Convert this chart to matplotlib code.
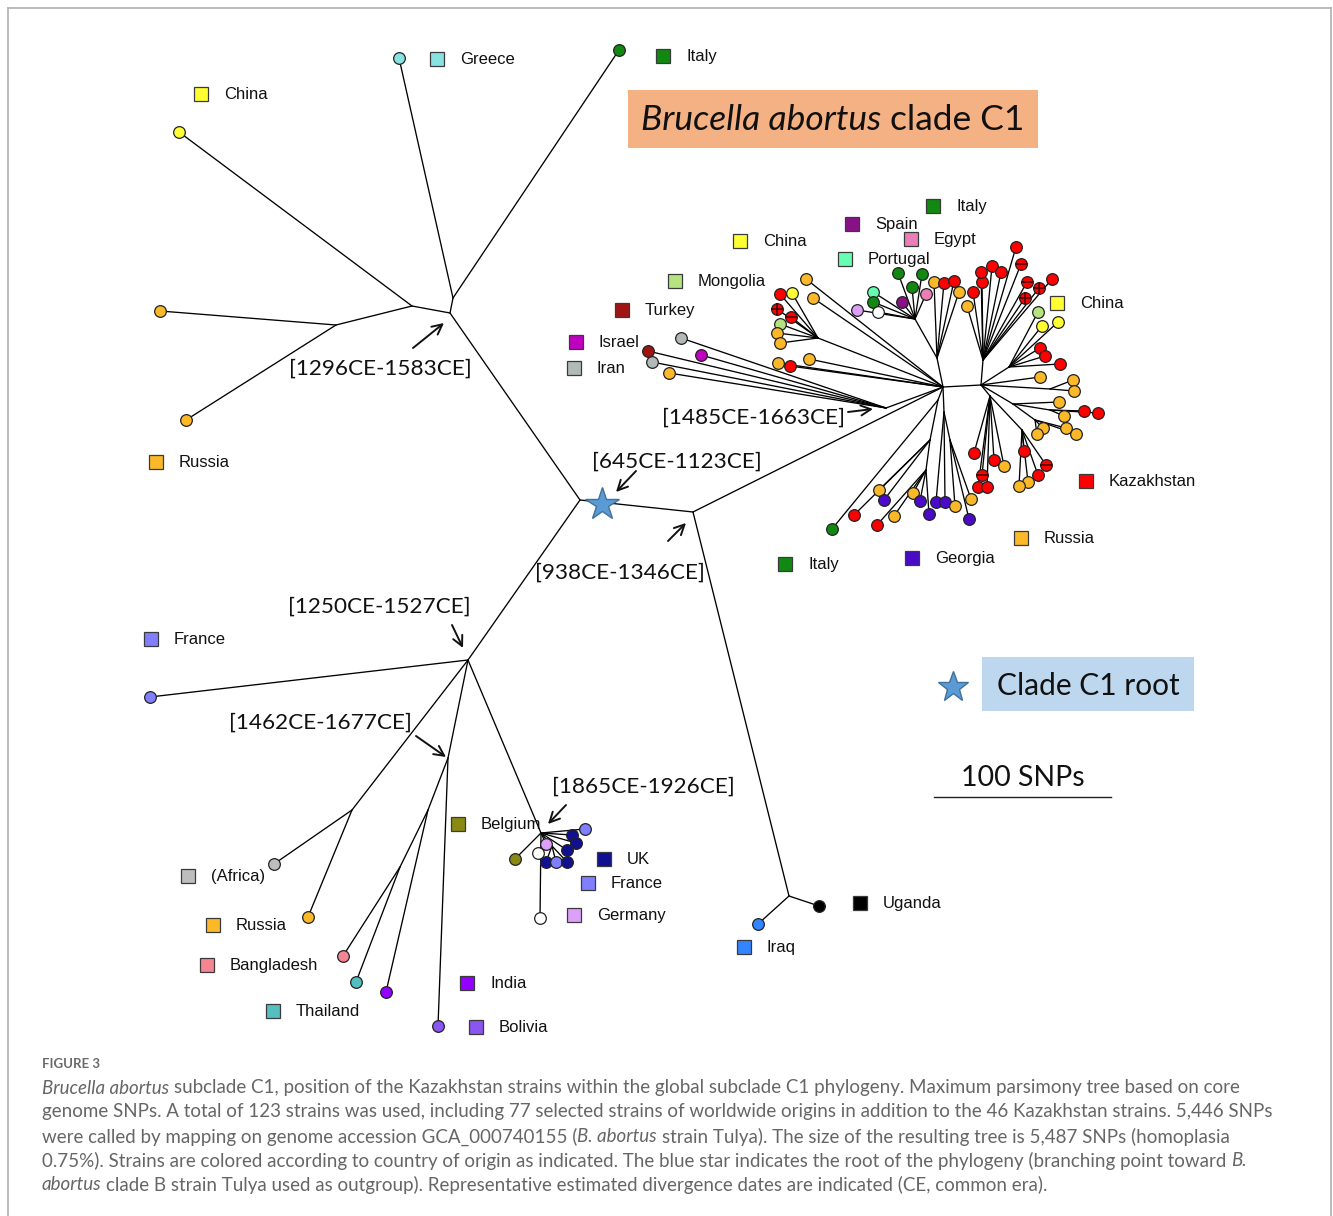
import matplotlib
matplotlib.use("Agg")
import matplotlib.pyplot as plt
from matplotlib.patches import Rectangle

W, H = 1333, 1216
fig = plt.figure(figsize=(W / 100, H / 100), dpi=100)
ax = fig.add_axes([0, 0, 1, 1])
ax.set_xlim(0, W)
ax.set_ylim(H, 0)
ax.axis("off")

# ---------------- data ----------------
country_colors = {
    "Kazakhstan": "#FF0000", "Russia": "#FBB829", "China": "#FFFF33",
    "Italy": "#118811", "Spain": "#881188", "Egypt": "#E97FB5",
    "Portugal": "#66FFB2", "Mongolia": "#B5E37F", "Turkey": "#A01414",
    "Israel": "#C000C0", "Iran": "#B3B8B8", "Greece": "#88E2E2",
    "Georgia": "#4B0AC8", "France": "#7F7FFF", "Belgium": "#8A8A12",
    "UK": "#101090", "Germany": "#DDA0F8", "Africa": "#BDBDBD",
    "Bangladesh": "#F58592", "Thailand": "#55BFBF", "India": "#9400FF",
    "Bolivia": "#8A55F0", "Iraq": "#3385FF", "Uganda": "#000000",
    "unknown": "#FFFFFF",
}

# internal nodes of the tree
node_names = ["A", "B", "N_up", "N_gi", "N_cr", "N_ru", "C", "N_af", "D", "E1", "E2",
              "N_bel", "N_bs", "N_iu", "L", "R", "N1485", "UL1", "U", "U2", "RU", "RC",
              "RA", "RR2", "RB", "RC3", "RD", "RD1", "LD_a", "LD_b", "LD_c", "LD_d", "LD_e"]
node_x = [580, 693, 450, 453, 412, 336, 468, 352, 448, 428, 400,
          541, 552, 789, 943, 981, 886, 818, 937, 915, 983, 1009,
          1050, 1013, 1050, 1035, 990, 1022, 938, 930, 926, 944, 950]
node_y = [500, 512, 313, 298, 306, 325, 660, 810, 758, 810, 867,
          833, 846, 896, 387, 385, 408, 338, 358, 319, 360, 367,
          389, 404, 410, 420, 396, 430, 400, 440, 470, 412, 440]

edge_parent = ["A", "N_up", "N_up", "N_cr", "A", "C", "C", "D", "E1", "C", "N_bel",
               "A", "B", "B", "N1485", "UL1", "U2", "U", "L", "R", "R", "R", "R",
               "RR2", "RR2", "R", "RD", "L", "LD_a", "LD_b", "L", "LD_d"]
edge_child = ["N_up", "N_gi", "N_cr", "N_ru", "C", "N_af", "D", "E1", "E2", "N_bel", "N_bs",
              "B", "N_iu", "L", "L", "L", "U", "L", "R", "RU", "RC", "RA", "RR2",
              "RB", "RC3", "RD", "RD1", "LD_a", "LD_b", "LD_c", "LD_d", "LD_e"]

# tips: parent node, x, y, country, mark ('' plain, '+' crossed, '-' barred)
tip_parent = []
tip_x = []
tip_y = []
tip_country = []
tip_mark = []


def tips(parent, rows):
    for r in rows:
        tip_parent.append(parent)
        tip_x.append(r[0])
        tip_y.append(r[1])
        tip_country.append(r[2])
        tip_mark.append(r[3] if len(r) > 3 else "")


tips("N_gi", [(399, 58, "Greece"), (619, 50, "Italy")])
tips("N_cr", [(179, 132, "China")])
tips("N_ru", [(160, 311, "Russia"), (186, 420, "Russia")])
tips("C", [(150, 697, "France")])
tips("N_af", [(274, 864, "Africa"), (308, 917, "Russia")])
tips("E2", [(343, 956, "Bangladesh"), (356, 982, "Thailand")])
tips("E1", [(386, 992, "India")])
tips("D", [(438, 1026, "Bolivia")])
tips("N_iu", [(758, 924, "Iraq"), (819, 906, "Uganda")])
tips("N_bel", [(515, 859, "Belgium"), (585, 829, "France"), (572, 835, "UK"),
               (576, 843, "UK"), (567, 850, "UK"), (546, 844, "Germany"),
               (540, 918, "unknown")])
tips("N_bs", [(538, 853, "unknown"), (546, 862, "UK"), (556, 862, "France"), (567, 862, "UK")])
tips("N1485", [(681, 338, "Iran"), (701, 355, "Israel"), (648, 351, "Turkey"),
               (652, 362, "Iran"), (669, 373, "Russia")])
tips("UL1", [(780, 294, "Kazakhstan"), (792, 293, "China"), (777, 309, "Kazakhstan", "+"),
             (791, 317, "Kazakhstan", "-"), (780, 324, "Mongolia"), (777, 333, "Russia"),
             (780, 343, "Russia")])
tips("L", [(806, 279, "Russia"), (813, 298, "Russia"), (778, 363, "Russia"),
           (790, 366, "Kazakhstan"), (809, 359, "Russia")])
tips("U2", [(857, 310, "Germany"), (873, 292, "Portugal"), (873, 302, "Italy"),
            (878, 312, "unknown"), (902, 302, "Spain"), (898, 273, "Italy"),
            (912, 287, "Italy"), (922, 274, "Italy"), (926, 294, "Egypt")])
tips("U", [(934, 282, "Russia"), (944, 283, "Kazakhstan"), (954, 281, "Kazakhstan"),
           (959, 292, "Russia")])
tips("RU", [(967, 306, "Russia"), (973, 292, "Kazakhstan"), (982, 282, "Kazakhstan"),
            (981, 272, "Kazakhstan"), (992, 266, "Kazakhstan"), (1001, 272, "Kazakhstan"),
            (1016, 247, "Kazakhstan"), (1021, 264, "Kazakhstan", "-"),
            (1027, 282, "Kazakhstan", "-"), (1052, 279, "Kazakhstan"),
            (1039, 288, "Kazakhstan", "+"), (1025, 298, "Kazakhstan", "+")])
tips("RC", [(1038, 312, "Mongolia"), (1042, 326, "China"), (1058, 322, "China"),
            (1040, 348, "Kazakhstan"), (1045, 356, "Kazakhstan"), (1060, 364, "Kazakhstan")])
tips("R", [(1040, 377, "Russia")])
tips("RA", [(1073, 380, "Russia"), (1074, 391, "Russia")])
tips("RR2", [(1059, 402, "Russia")])
tips("RB", [(1084, 411, "Kazakhstan"), (1098, 413, "Kazakhstan"), (1064, 416, "Russia")])
tips("RC3", [(1043, 428, "Russia"), (1037, 434, "Russia"), (1066, 428, "Russia"),
             (1076, 434, "Russia")])
tips("RD", [(974, 453, "Kazakhstan"), (994, 460, "Kazakhstan"), (1004, 466, "Russia"),
            (978, 487, "Kazakhstan"), (987, 487, "Kazakhstan"),
            (982, 475, "Kazakhstan", "-")])
tips("RD1", [(1024, 451, "Kazakhstan"), (1038, 475, "Kazakhstan"), (1028, 482, "Russia"),
             (1019, 486, "Russia"), (1046, 465, "Kazakhstan", "-")])
tips("LD_a", [(832, 529, "Italy")])
tips("LD_b", [(854, 515, "Kazakhstan"), (879, 490, "Russia"), (884, 500, "Georgia")])
tips("LD_c", [(877, 525, "Kazakhstan"), (894, 516, "Russia"), (913, 493, "Russia"),
              (920, 501, "Georgia"), (929, 514, "Georgia")])
tips("LD_d", [(936, 502, "Georgia"), (945, 502, "Georgia")])
tips("LD_e", [(955, 506, "Russia"), (971, 499, "Russia"), (969, 519, "Georgia")])

# legend labels: text, country, square position
legend_text = ["China", "Greece", "Italy", "Russia", "France", "(Africa)", "Russia",
               "Bangladesh", "Thailand", "India", "Bolivia", "Belgium", "UK", "France",
               "Germany", "Uganda", "Iraq", "Italy", "Georgia", "Russia", "Kazakhstan",
               "China", "Italy", "Spain", "Egypt", "China", "Portugal", "Mongolia",
               "Turkey", "Israel", "Iran"]
legend_country = ["China", "Greece", "Italy", "Russia", "France", "Africa", "Russia",
                  "Bangladesh", "Thailand", "India", "Bolivia", "Belgium", "UK", "France",
                  "Germany", "Uganda", "Iraq", "Italy", "Georgia", "Russia", "Kazakhstan",
                  "China", "Italy", "Spain", "Egypt", "China", "Portugal", "Mongolia",
                  "Turkey", "Israel", "Iran"]
legend_x = [201, 437, 663, 156, 151, 188, 213, 207, 273, 467, 476, 458, 604, 588, 574,
            860, 744, 785, 912, 1021, 1086, 1057, 933, 852, 911, 740, 845, 675, 622, 576, 574]
legend_y = [94, 59, 56, 462, 639, 876, 925, 965, 1011, 983, 1027, 824, 859, 883, 915,
            903, 947, 564, 558, 538, 481, 303, 206, 224, 239, 241, 259, 281, 310, 342, 368]

# divergence date labels
date_labels = ["[1296CE-1583CE]", "[645CE-1123CE]", "[938CE-1346CE]", "[1485CE-1663CE]",
               "[1250CE-1527CE]", "[1462CE-1677CE]", "[1865CE-1926CE]"]
date_label_xy = [(380, 367), (677, 460), (620, 571), (753, 416), (379, 605), (320, 721), (643, 785)]
date_arrow_tail = [(413, 348), (636, 471), (668, 541), (848, 412), (452, 625), (416, 736), (566, 805)]
date_arrow_head = [(444, 323), (616, 492), (686, 523), (873, 409), (463, 648), (446, 757), (548, 824)]

# ---------------- drawing ----------------
pos = {n: (x, y) for n, x, y in zip(node_names, node_x, node_y)}
LW = 0.95
for p, c in zip(edge_parent, edge_child):
    (x0, y0), (x1, y1) = pos[p], pos[c]
    ax.plot([x0, x1], [y0, y1], color="black", lw=LW, zorder=2, solid_capstyle="round")
for p, x, y in zip(tip_parent, tip_x, tip_y):
    x0, y0 = pos[p]
    ax.plot([x0, x], [y0, y], color="black", lw=LW, zorder=2, solid_capstyle="round")

MS = 8.4
for x, y, c, m in zip(tip_x, tip_y, tip_country, tip_mark):
    ax.plot(x, y, "o", ms=MS, mfc=country_colors[c], mec="#222222", mew=0.9, zorder=3)
    if m == "+":
        ax.plot(x, y, "+", ms=8.0, mec="#4a0000", mew=1.2, zorder=4)
    elif m == "-":
        ax.plot(x, y, "_", ms=8.0, mec="#4a0000", mew=1.2, zorder=4)

# legend squares and names
for t, c, x, y in zip(legend_text, legend_country, legend_x, legend_y):
    ax.plot(x, y, "s", ms=10.5, mfc=country_colors[c], mec="#3a3a3a", mew=0.9, zorder=3)
    ax.text(x + 23, y + 0.5, t, fontsize=12, family="Liberation Sans", ha="left",
            va="center", color="#111111", zorder=5)

# date labels and arrows
for t, (tx, ty), tail, head in zip(date_labels, date_label_xy, date_arrow_tail, date_arrow_head):
    ax.text(tx, ty + 1.5, t, fontsize=16.2, family="Lato", ha="center", va="center",
            color="#111111", zorder=5)
    ax.annotate("", xy=head, xytext=tail,
                arrowprops=dict(arrowstyle="->", lw=1.4, color="#111111", mutation_scale=18,
                                shrinkA=0, shrinkB=0), zorder=5)

# root star
ax.plot(602, 504, "*", ms=25, mfc="#5B9BD5", mec="#41719C", mew=1.0, zorder=6)

fig.canvas.draw()
renderer = fig.canvas.get_renderer()
inv = ax.transData.inverted()


def text_width(s, **kw):
    t = ax.text(0, 0, s, **kw)
    bb = t.get_window_extent(renderer=renderer)
    t.remove()
    return bb.width


def rich_line(x, y, segs, **kw):
    sw = text_width("a a", **kw) - text_width("aa", **kw)
    for s, it in segs:
        style = "italic" if it else "normal"
        lead = len(s) - len(s.lstrip(" "))
        trail = len(s) - len(s.rstrip(" "))
        core = s.strip(" ")
        x += lead * sw
        t = ax.text(x, y, core, fontstyle=style, **kw)
        bb = t.get_window_extent(renderer=renderer)
        x = inv.transform((bb.x1, bb.y0))[0] + trail * sw
    return x


# title box
ax.add_patch(Rectangle((628, 90), 410, 58, facecolor="#F4B183", edgecolor="none", zorder=1))
title_kw = dict(fontsize=25.5, family="Lato", color="#111111", va="center", ha="left", zorder=5)
title_segs = [("Brucella abortus", True), (" clade C1", False)]
sw_t = text_width("a a", **title_kw) - text_width("aa", **title_kw)
tw = text_width("Brucella abortus", fontstyle="italic", **title_kw) + sw_t + \
    text_width("clade C1", **title_kw)
rich_line(833 - tw / 2, 120, title_segs, **title_kw)

# clade root legend box
ax.add_patch(Rectangle((982, 657), 212, 54, facecolor="#BDD7EE", edgecolor="none", zorder=1))
ax.text(1088, 686, "Clade C1 root", fontsize=21.5, family="Lato", ha="center", va="center",
        color="#111111", zorder=5)
ax.plot(953, 687, "*", ms=23, mfc="#5B9BD5", mec="#41719C", mew=1.0, zorder=6)

# scale bar
ax.text(1023, 778, "100 SNPs", fontsize=20.5, family="Lato", ha="center", va="center",
        color="#111111", zorder=5)
ax.plot([934, 1111], [797, 797], color="#222222", lw=1.0)

# figure frame
ax.plot([8, 8], [H, 8], color="#b0b0b0", lw=1.2)
ax.plot([8, 1331], [8, 8], color="#b0b0b0", lw=1.2)
ax.plot([1331, 1331], [8, H], color="#b0b0b0", lw=1.2)

# caption
ax.text(42, 1064, "FIGURE 3", fontsize=9.5, family="Lato", color="#6a6a6a", ha="left",
        va="center", fontweight="bold")
cap_lines = [
    [("Brucella abortus", True), (" subclade C1, position of the Kazakhstan strains within the global subclade C1 phylogeny. Maximum parsimony tree based on core", False)],
    [("genome SNPs. A total of 123 strains was used, including 77 selected strains of worldwide origins in addition to the 46 Kazakhstan strains. 5,446 SNPs", False)],
    [("were called by mapping on genome accession GCA_000740155 (", False), ("B. abortus", True), (" strain Tulya). The size of the resulting tree is 5,487 SNPs (homoplasia", False)],
    [("0.75%). Strains are colored according to country of origin as indicated. The blue star indicates the root of the phylogeny (branching point toward ", False), ("B.", True)],
    [("abortus", True), (" clade B strain Tulya used as outgroup). Representative estimated divergence dates are indicated (CE, common era).", False)],
]
cap_y = [1088, 1112, 1137, 1161, 1185]
base = 12
w2 = text_width(cap_lines[1][0][0], fontsize=base, family="Lato")
cap_size = base * 1228 / w2
cap_kw = dict(fontsize=cap_size, family="Lato", color="#666666", va="center", ha="left")
for segs, y in zip(cap_lines, cap_y):
    rich_line(42, y, segs, **cap_kw)

fig.savefig("out.png", dpi=100)
